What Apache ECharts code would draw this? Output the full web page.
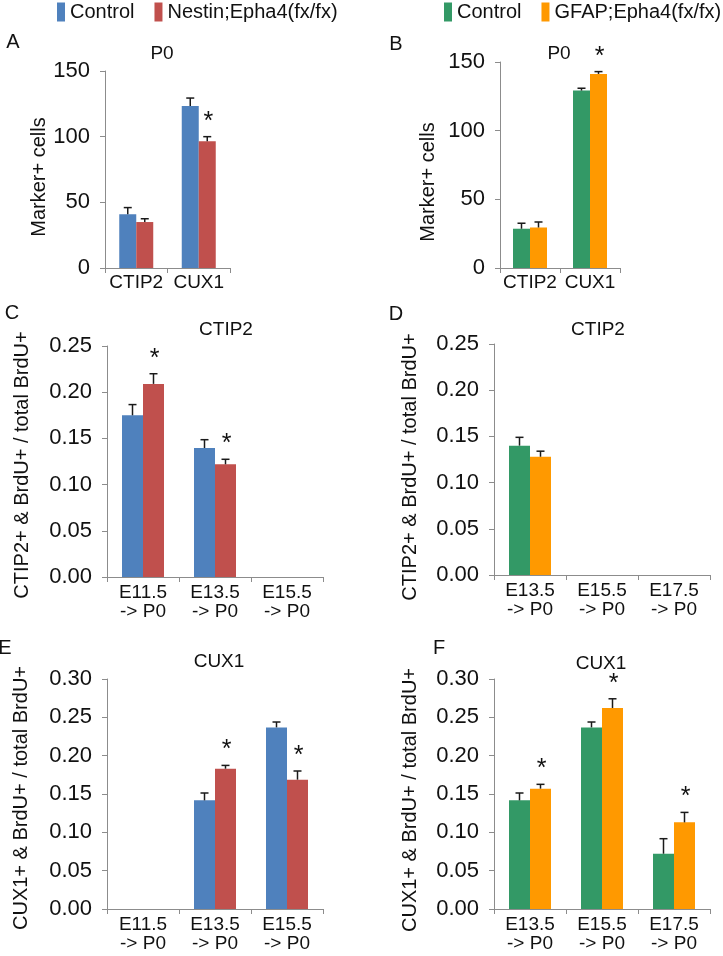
<!DOCTYPE html>
<html>
<head>
<meta charset="utf-8">
<script src="https://cdn.jsdelivr.net/npm/echarts@6/dist/echarts.min.js"></script>
<style>
  html, body { margin: 0; padding: 0; background: #fff; }
  #main { width: 723px; height: 956px; }
</style>
</head>
<body>
<div id="main"></div>
<script>
// panel A / B : P0 marker counts
var catsP0 = ['CTIP2', 'CUX1'];
var aControl = [41, 123.4];
var aControlErr = [5, 6];
var aNestin = [35, 96.5];
var aNestinErr = [2.5, 3.5];
var aSig = [false, true];

var bControl = [28.6, 129.2];
var bControlErr = [4, 1.7];
var bGfap = [29.5, 141.3];
var bGfapErr = [4, 1.7];
var bSig = [false, true];

// panel C / D : CTIP2 birthdating
var catsNestin = ['E11.5\n-> P0', 'E13.5\n-> P0', 'E15.5\n-> P0'];
var catsGfap = ['E13.5\n-> P0', 'E15.5\n-> P0', 'E17.5\n-> P0'];
var cControl = [0.175, 0.1396, null];
var cControlErr = [0.0116, 0.009, null];
var cNestin = [0.209, 0.122, null];
var cNestinErr = [0.011, 0.0054, null];
var cSig = [true, true, false];

var dControl = [0.14, null, null];
var dControlErr = [0.009, null, null];
var dGfap = [0.128, null, null];
var dGfapErr = [0.006, null, null];
var dSig = [false, false, false];

// panel E / F : CUX1 birthdating
var eControl = [null, 0.1417, 0.2369];
var eControlErr = [null, 0.0096, 0.007];
var eNestin = [null, 0.183, 0.1687];
var eNestinErr = [null, 0.0043, 0.0113];
var eSig = [false, true, true];

var fControl = [0.1417, 0.2369, 0.0721];
var fControlErr = [0.0096, 0.007, 0.0196];
var fGfap = [0.157, 0.2622, 0.113];
var fGfapErr = [0.0056, 0.012, 0.013];
var fSig = [true, true, true];

var BLUE = '#4F81BD', RED = '#C0504D', GREEN = '#339966', ORANGE = '#FF9900';
var FONT = 'Liberation Sans, Arial, sans-serif';
var TXT = '#111';
var AXIS = '#8c8c8c';

var chart = echarts.init(document.getElementById('main'));

// grid boxes in pixels
var grids = [
  {left: 105, top: 71, width: 125, height: 197},
  {left: 500, top: 62, width: 120, height: 206},
  {left: 107, top: 346, width: 216, height: 231},
  {left: 494, top: 344, width: 216, height: 231},
  {left: 107, top: 679, width: 216, height: 230},
  {left: 494, top: 679, width: 216, height: 230}
];
var barW = [17, 17, 21, 21, 21, 21];

var xAxes = [];
var yAxes = [];
var series = [];

function makeX(idx, cats) {
  var twoLine = cats[0].indexOf('\n') >= 0;
  xAxes.push({
    type: 'category', gridIndex: idx, data: cats,
    axisLine: {lineStyle: {color: AXIS, width: 1}},
    axisTick: {show: true, length: 5, lineStyle: {color: AXIS}},
    axisLabel: {
      color: TXT, fontSize: 19, fontFamily: FONT,
      margin: twoLine ? 6 : 5, lineHeight: 19, interval: 0
    }
  });
}

function makeY(idx, max, interval, digits) {
  yAxes.push({
    type: 'value', gridIndex: idx, min: 0, max: max, interval: interval,
    axisLine: {show: true, lineStyle: {color: AXIS, width: 1}},
    axisTick: {show: true, length: 5, lineStyle: {color: AXIS}},
    splitLine: {show: false},
    axisLabel: {
      color: TXT, fontSize: 22, fontFamily: FONT, margin: 15,
      formatter: function (v) { return v.toFixed(digits); }
    }
  });
}

function errRender(side, w, sig) {
  return function (params, api) {
    var i = api.value(0);
    var v = api.value(1);
    var e = api.value(2);
    var base = api.coord([i, v]);
    var top = api.coord([i, v + e]);
    var x = base[0] + side * w / 2;
    var st = {stroke: '#1a1a1a', lineWidth: 1.5};
    var kids = [
      {type: 'line', shape: {x1: x, y1: base[1], x2: x, y2: top[1]}, style: st},
      {type: 'line', shape: {x1: x - 4, y1: top[1], x2: x + 4, y2: top[1]}, style: st}
    ];
    if (sig && sig[i]) {
      kids.push({
        type: 'text', x: x + 1, y: top[1] - 15,
        style: {text: '*', fill: '#111', font: '25px ' + FONT,
          textAlign: 'center', textVerticalAlign: 'middle'}
      });
    }
    return {type: 'group', children: kids};
  };
}

function addPair(idx, names, colors, vals, errs, sig) {
  for (var s = 0; s < 2; s++) {
    series.push({
      name: names[s], type: 'bar', xAxisIndex: idx, yAxisIndex: idx,
      data: vals[s].map(function (v) { return v == null ? '-' : v; }),
      barWidth: barW[idx], barGap: '0%',
      itemStyle: {color: colors[s]}
    });
  }
  for (var k = 0; k < 2; k++) {
    var pts = [];
    vals[k].forEach(function (v, i) {
      if (v != null) pts.push([i, v, errs[k][i]]);
    });
    series.push({
      type: 'custom', xAxisIndex: idx, yAxisIndex: idx, z: 5,
      renderItem: errRender(k === 0 ? -1 : 1, barW[idx], k === 1 ? sig : null),
      data: pts, silent: true
    });
  }
}

var nestinNames = ['Control', 'Nestin;Epha4(fx/fx)'];
var gfapNames = ['Control ', 'GFAP;Epha4(fx/fx)'];

makeX(0, catsP0); makeY(0, 150, 50, 0);
makeX(1, catsP0); makeY(1, 150, 50, 0);
makeX(2, catsNestin); makeY(2, 0.25, 0.05, 2);
makeX(3, catsGfap); makeY(3, 0.25, 0.05, 2);
makeX(4, catsNestin); makeY(4, 0.30, 0.05, 2);
makeX(5, catsGfap); makeY(5, 0.30, 0.05, 2);

addPair(0, nestinNames, [BLUE, RED], [aControl, aNestin], [aControlErr, aNestinErr], aSig);
addPair(1, gfapNames, [GREEN, ORANGE], [bControl, bGfap], [bControlErr, bGfapErr], bSig);
addPair(2, nestinNames, [BLUE, RED], [cControl, cNestin], [cControlErr, cNestinErr], cSig);
addPair(3, gfapNames, [GREEN, ORANGE], [dControl, dGfap], [dControlErr, dGfapErr], dSig);
addPair(4, nestinNames, [BLUE, RED], [eControl, eNestin], [eControlErr, eNestinErr], eSig);
addPair(5, gfapNames, [GREEN, ORANGE], [fControl, fGfap], [fControlErr, fGfapErr], fSig);

function title(text, cx, cy) {
  return {
    text: text, left: cx, top: cy - 11, textAlign: 'center', padding: 0,
    textStyle: {fontSize: 19, fontWeight: 'normal', color: TXT, fontFamily: FONT}
  };
}

function label(text, x, y, size, rot) {
  return {
    type: 'text', x: x, y: y, rotation: rot || 0,
    style: {text: text, fill: TXT, font: size + 'px ' + FONT,
      textAlign: 'center', textVerticalAlign: 'middle'}
  };
}

var legendBase = {
  orient: 'horizontal', top: 2, padding: 0, icon: 'rect',
  itemWidth: 8, itemHeight: 19, itemGap: 20,
  textStyle: {fontSize: 20, color: TXT, fontFamily: FONT},
  formatter: function (n) { return n.trim(); }
};

var option = {
  animation: false,
  backgroundColor: '#fff',
  textStyle: {fontFamily: FONT},
  grid: grids,
  xAxis: xAxes,
  yAxis: yAxes,
  legend: [
    Object.assign({}, legendBase, {left: 57, data: nestinNames}),
    Object.assign({}, legendBase, {left: 444, data: gfapNames})
  ],
  title: [
    title('P0', 162, 55),
    title('P0', 559, 55),
    title('CTIP2', 226, 331),
    title('CTIP2', 598, 331),
    title('CUX1', 219, 663),
    title('CUX1', 601, 665)
  ],
  graphic: [
    label('A', 13, 42, 20),
    label('B', 396, 44, 20),
    label('C', 12, 313, 20),
    label('D', 396, 314, 20),
    label('E', 5, 648, 20),
    label('F', 439, 648, 20),
    label('Marker+ cells', 39, 177, 20, Math.PI / 2),
    label('Marker+ cells', 428, 182, 20, Math.PI / 2),
    label('CTIP2+ & BrdU+ / total BrdU+', 22, 465, 20, Math.PI / 2),
    label('CTIP2+ & BrdU+ / total BrdU+', 410, 467, 20, Math.PI / 2),
    label('CUX1+ & BrdU+ / total BrdU+', 21, 798, 20, Math.PI / 2),
    label('CUX1+ & BrdU+ / total BrdU+', 410, 800, 20, Math.PI / 2)
  ],
  series: series
};

chart.setOption(option);
</script>
</body>
</html>
